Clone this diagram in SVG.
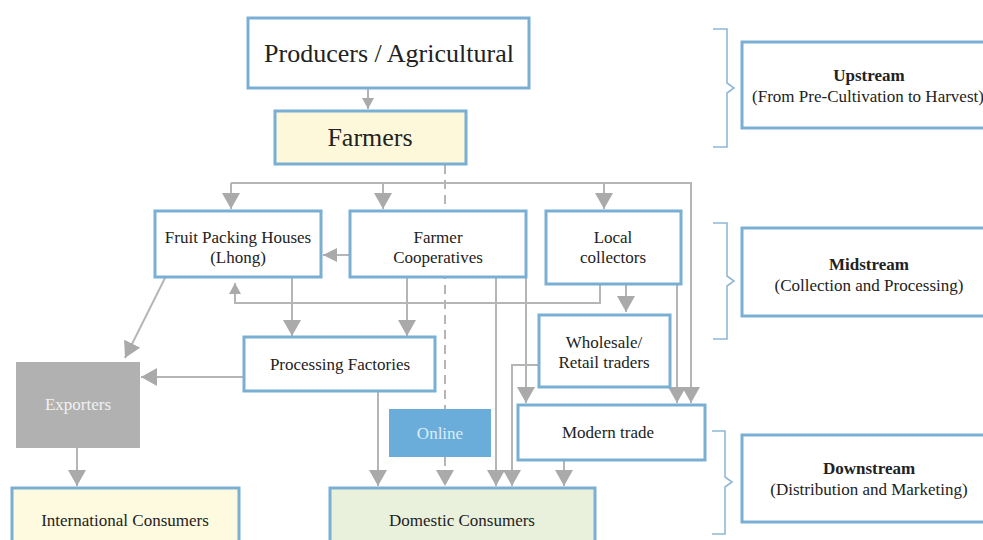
<svg xmlns="http://www.w3.org/2000/svg" width="983" height="540" viewBox="0 0 983 540">
<style>
.box{fill:#ffffff;stroke:#78afd3;stroke-width:3}
.t{font-family:"Liberation Serif","Times New Roman",serif;font-size:17px;fill:#222;text-anchor:middle}
.big{font-size:26px}
.b{font-weight:bold}
.c{fill:none;stroke:#b5b5b5;stroke-width:2}
.dash{stroke-dasharray:9 6}
.brace{fill:none;stroke:#8fb8d4;stroke-width:1.6}
</style>
<defs>
<marker id="ar" markerUnits="userSpaceOnUse" markerWidth="16" markerHeight="18" viewBox="0 0 16 18" refX="16" refY="9" orient="auto"><path d="M0,0 L16,9 L0,18 z" fill="#aaaaaa"/></marker>
<marker id="am" markerUnits="userSpaceOnUse" markerWidth="14" markerHeight="14" viewBox="0 0 14 14" refX="14" refY="7" orient="auto"><path d="M0,0 L14,7 L0,14 z" fill="#aaaaaa"/></marker>
<marker id="as" markerUnits="userSpaceOnUse" markerWidth="11" markerHeight="12" viewBox="0 0 11 12" refX="11" refY="6" orient="auto"><path d="M0,0 L11,6 L0,12 z" fill="#aaaaaa"/></marker>
</defs>
<rect width="983" height="540" fill="#ffffff"/>
<g id="connectors">
<path class="c" d="M368,89 V109" marker-end="url(#as)"/>
<path class="c" d="M231,183 H691 V403" marker-end="url(#ar)"/>
<path class="c" d="M231,183 V209" marker-end="url(#ar)"/>
<path class="c" d="M383,183 V209" marker-end="url(#ar)"/>
<path class="c" d="M604,183 V209" marker-end="url(#ar)"/>
<path class="c dash" d="M445,165 V409"/>
<path class="c dash" d="M445,457 V486" marker-end="url(#ar)"/>
<path class="c" d="M349,255 H323" marker-end="url(#am)"/>
<path class="c" d="M600,284 V303 H235 V283" marker-end="url(#as)"/>
<path class="c" d="M292,278 V336" marker-end="url(#ar)"/>
<path class="c" d="M407,278 V336" marker-end="url(#ar)"/>
<path class="c" d="M496,278 V486" marker-end="url(#ar)"/>
<path class="c" d="M526,278 V403" marker-end="url(#ar)"/>
<path class="c" d="M626,284 V312" marker-end="url(#ar)"/>
<path class="c" d="M677,284 V403" marker-end="url(#ar)"/>
<path class="c" d="M538,365 H512 V486" marker-end="url(#ar)"/>
<path class="c" d="M564,461 V486" marker-end="url(#ar)"/>
<path class="c" d="M378,392 V486" marker-end="url(#ar)"/>
<path class="c" d="M243,377 H141" marker-end="url(#ar)"/>
<path class="c" d="M165,278 L125,358" marker-end="url(#ar)"/>
<path class="c" d="M77,448 V486" marker-end="url(#ar)"/>
</g>
<g id="producers"><rect class="box" x="248" y="18" width="281" height="70"/><text class="t big" x="389" y="62">Producers / Agricultural</text></g>
<g id="farmers"><rect class="box" x="275" y="111" width="191" height="53" style="fill:#fdf8d9"/><text class="t big" x="370" y="146">Farmers</text></g>
<g id="fruit-packing"><rect class="box" x="155" y="211" width="166" height="66"/><text class="t" x="238" y="243">Fruit Packing Houses</text><text class="t" x="238" y="263">(Lhong)</text></g>
<g id="farmer-coop"><rect class="box" x="350" y="211" width="176" height="66"/><text class="t" x="438" y="243">Farmer</text><text class="t" x="438" y="263">Cooperatives</text></g>
<g id="local-collectors"><rect class="box" x="546" y="211" width="135" height="73"/><text class="t" x="613" y="243">Local</text><text class="t" x="613" y="263">collectors</text></g>
<g id="wholesale"><rect class="box" x="539" y="315" width="131" height="72"/><text class="t" x="604" y="348">Wholesale/</text><text class="t" x="604" y="368">Retail traders</text></g>
<g id="processing"><rect class="box" x="244" y="337" width="191" height="54"/><text class="t" x="340" y="370">Processing Factories</text></g>
<g id="exporters"><rect x="16" y="362" width="124" height="86" fill="#b1b1b1"/><text class="t" x="78" y="410" style="fill:#f2f2f2">Exporters</text></g>
<g id="online"><rect x="389" y="409" width="102" height="48" fill="#6aaddb"/><text class="t" x="440" y="439" style="fill:#dcedf8">Online</text></g>
<g id="modern-trade"><rect class="box" x="518" y="405" width="187" height="55"/><text class="t" x="608" y="438">Modern trade</text></g>
<g id="international"><rect class="box" x="12" y="488" width="227" height="70" style="fill:#fdfadf"/><text class="t" x="125" y="526">International Consumers</text></g>
<g id="domestic"><rect class="box" x="330" y="488" width="265" height="70" style="fill:#e9f1dc"/><text class="t" x="462" y="526">Domestic Consumers</text></g>
<g id="upstream"><path class="brace" d="M713,29 H727 V83 L734,88 L727,93 V147 H713"/><rect class="box" x="742" y="42" width="260" height="86"/><text class="t b" x="869" y="81">Upstream</text><text class="t" x="868" y="102">(From Pre-Cultivation to Harvest)</text></g>
<g id="midstream"><path class="brace" d="M713,223 H727 V276 L734,281 L727,286 V339 H713"/><rect class="box" x="742" y="228" width="260" height="88"/><text class="t b" x="869" y="270">Midstream</text><text class="t" x="869" y="291">(Collection and Processing)</text></g>
<g id="downstream"><path class="brace" d="M712,431 H725 V477 L732,482 L725,487 V534 H712"/><rect class="box" x="742" y="435" width="260" height="87"/><text class="t b" x="869" y="474">Downstream</text><text class="t" x="869" y="495">(Distribution and Marketing)</text></g>
</svg>
